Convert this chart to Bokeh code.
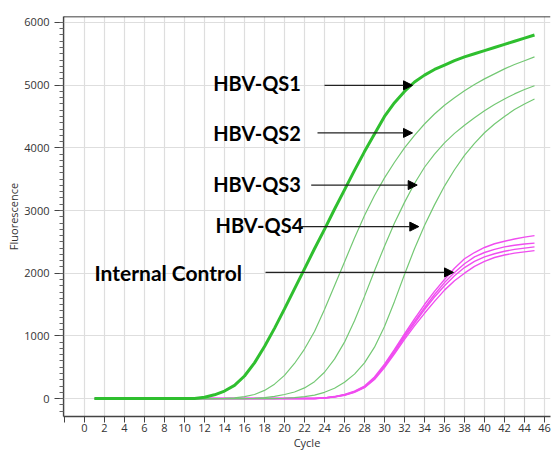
from bokeh.plotting import figure
from bokeh.models import Range1d, SingleIntervalTicker, Arrow, NormalHead, Label, Span
from bokeh.embed import file_html
from bokeh.resources import INLINE

cycles = list(range(1, 46))

qs1 = [0]*11 + [20, 60, 120, 210, 360, 570, 830, 1120, 1430, 1750, 2070, 2390, 2700,
                3020, 3330, 3640, 3940, 4220, 4500, 4720, 4900, 5050, 5160, 5250, 5320,
                5390, 5450, 5500, 5550, 5600, 5650, 5700, 5750, 5800]
qs2 = [0]*13 + [5, 12, 30, 65, 130, 230, 370, 560, 790, 1070, 1420, 1800, 2180, 2560,
                2920, 3240, 3520, 3770, 4000, 4200, 4380, 4540, 4680, 4800, 4910, 5010,
                5100, 5180, 5260, 5330, 5390, 5450]
qs3 = [0]*16 + [5, 15, 35, 65, 105, 170, 270, 420, 630, 900, 1240, 1630, 2040, 2430,
                2800, 3130, 3430, 3690, 3900, 4080, 4230, 4360, 4480, 4590, 4690, 4780,
                4860, 4930, 4990]
qs4 = [0]*19 + [5, 15, 30, 55, 100, 165, 260, 390, 570, 820, 1150, 1550, 1980, 2390,
                2760, 3090, 3390, 3650, 3880, 4070, 4240, 4380, 4500, 4610, 4700, 4780]
ic_a = [0]*23 + [12, 32, 65, 118, 200, 345, 550, 785, 1030, 1270, 1500, 1710, 1900, 2080,
                 2230, 2330, 2410, 2470, 2510, 2545, 2575, 2600]
ic_b = [0]*23 + [10, 30, 60, 110, 190, 330, 530, 760, 1000, 1230, 1450, 1660, 1850, 2010,
                 2150, 2260, 2330, 2380, 2420, 2445, 2465, 2480]
ic_c = [0]*23 + [10, 28, 57, 105, 182, 318, 512, 740, 975, 1200, 1420, 1620, 1800, 1960,
                 2090, 2190, 2260, 2310, 2350, 2380, 2400, 2420]
ic_d = [0]*23 + [8, 25, 53, 100, 175, 305, 495, 715, 945, 1160, 1360, 1550, 1730, 1880,
                 2000, 2110, 2190, 2250, 2290, 2320, 2340, 2360]

label_texts = ["HBV-QS1", "HBV-QS2", "HBV-QS3", "HBV-QS4", "Internal Control"]
x_title = "Cycle"
y_title = "Fluorescence"

p = figure(width=552, height=452, x_range=Range1d(-2.1, 46.6), y_range=Range1d(-286, 6095),
           output_backend="svg", toolbar_location=None,
           min_border_left=63, min_border_right=2, min_border_top=16, min_border_bottom=35)
p.outline_line_color = None
p.background_fill_color = "white"

p.xaxis.ticker = SingleIntervalTicker(interval=2, num_minor_ticks=0)
p.yaxis.ticker = SingleIntervalTicker(interval=1000, num_minor_ticks=10)
p.xaxis.major_label_overrides = {-2: ""}

for ax in (p.xaxis, p.yaxis):
    ax.axis_line_color = "#444444"
    ax.axis_line_width = 1.3
    ax.major_tick_line_color = "#444444"
    ax.minor_tick_line_color = "#666666"
    ax.major_tick_in = 0
    ax.minor_tick_in = 0
    ax.major_label_text_font = "Open Sans"
    ax.major_label_text_font_size = "11px"
    ax.major_label_text_color = "#333333"
    ax.axis_label_text_font = "Open Sans"
    ax.axis_label_text_font_size = "11px"
    ax.axis_label_text_font_style = "normal"
    ax.axis_label_text_color = "#333333"

p.xaxis.major_tick_out = 6
p.xaxis.major_label_standoff = 1
p.xaxis.axis_label = x_title
p.xaxis.axis_label_standoff = 0
p.yaxis.major_tick_out = 9
p.yaxis.minor_tick_out = 4
p.yaxis.major_label_standoff = 5
p.yaxis.axis_label = y_title
p.yaxis.axis_label_standoff = 0

p.grid.grid_line_color = "#dedede"
p.grid.grid_line_width = 1.2

p.add_layout(Span(location=6095, dimension="width", line_color="black", line_width=1.5))

for ys in (ic_a, ic_b, ic_c, ic_d):
    p.line(cycles, ys, line_color="#f04df0", line_width=1.4)
for ys in (qs2, qs3, qs4):
    p.line(cycles, ys, line_color="#74c874", line_width=1.2)
p.line(cycles, qs1, line_color="#2fbf2f", line_width=3)

# annotation layout
label_x = [12.87, 12.87, 12.87, 13.1, 1.0]
label_y = [5037, 4242, 3422, 2770, 2005]
label_sizes = ["20px", "20px", "20px", "20px", "21px"]
arrow_x0 = [24.0, 23.3, 22.67, 21.4, 18.1]
arrow_x1 = [32.8, 32.8, 33.27, 33.43, 36.9]
arrow_y = [4997, 4238, 3406, 2743, 2013]

for t, x, y, s in zip(label_texts, label_x, label_y, label_sizes):
    p.add_layout(Label(x=x, y=y, text=t, text_font="Lato", text_font_size=s,
                       text_font_style="bold", text_baseline="middle", text_align="left",
                       text_color="black"))
for x0, x1, y in zip(arrow_x0, arrow_x1, arrow_y):
    p.add_layout(Arrow(end=NormalHead(size=9, fill_color="black", line_color="black"),
                       x_start=x0, y_start=y, x_end=x1, y_end=y,
                       line_color="#222222", line_width=1.2))

open("out.html", "w").write(file_html(p, INLINE))
